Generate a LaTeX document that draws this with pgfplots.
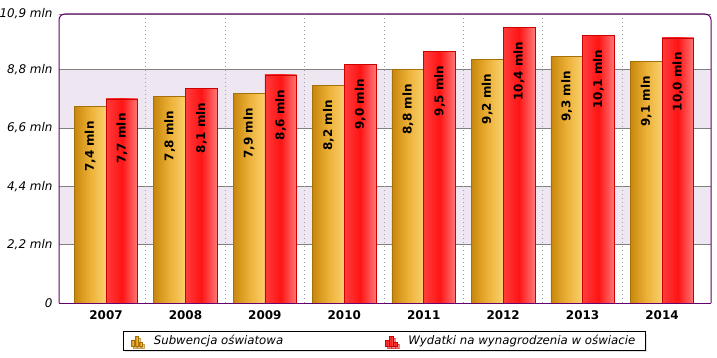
\documentclass[border=0pt]{standalone}
\usepackage{fontspec}
\setmainfont{DejaVu Sans}
\usepackage{pgfplots}
\pgfplotsset{compat=1.18}
\usetikzlibrary{shadows}
\definecolor{frame}{RGB}{102,0,110}
\definecolor{band}{RGB}{238,230,240}
\definecolor{gA}{RGB}{200,135,12}
\definecolor{gB}{RGB}{236,176,55}
\definecolor{gC}{RGB}{250,208,110}
\definecolor{gE}{RGB}{165,112,10}
\definecolor{rA}{RGB}{255,60,60}
\definecolor{rB}{RGB}{255,20,20}
\definecolor{rC}{RGB}{255,120,120}
\definecolor{rE}{RGB}{205,0,0}
\pgfplotsset{
  gbar/.style={ybar, bar width=0.4, bar shift=0pt, draw=gE, line width=0.6bp,
    left color=gA, right color=gC, middle color=gB},
  rbar/.style={ybar, bar width=0.4, bar shift=0pt, draw=rE, line width=0.6bp,
    left color=rA, right color=rC, middle color=rB},
}
\begin{document}
\begin{tikzpicture}
\begin{axis}[
  set layers,
  width=652bp, height=289bp, scale only axis,
  xmin=-0.592, xmax=7.617, ymin=0, ymax=10.9,
  axis line style={draw=none},
  tick style={draw=none},
  xtick={0,1,2,3,4,5,6,7},
  xticklabels={2007,2008,2009,2010,2011,2012,2013,2014},
  xticklabel style={font=\bfseries\fontsize{12}{14}\selectfont, yshift=-4bp},
  ytick={0,2.2,4.4,6.6,8.8,10.9},
  yticklabels={{0},{2,2 mln},{4,4 mln},{6,6 mln},{8,8 mln},{10,9 mln}},
  yticklabel style={font=\itshape\fontsize{12}{14}\selectfont, xshift=-3bp},
  ymajorgrids,
  major grid style={draw=gray, line width=0.8bp},
  extra x ticks={0.5,1.5,2.5,3.5,4.5,5.5,6.5},
  extra x tick labels={},
  extra x tick style={grid=major, major grid style={draw=gray!75, line width=1bp, dash pattern=on 1.2bp off 2.8bp}},
  /pgf/number format/assume math mode=true,
  /pgf/number format/use comma,
  /pgf/number format/fixed,
  /pgf/number format/fixed zerofill,
  /pgf/number format/precision=1,
  nodes near coords={\pgfmathprintnumber{\pgfplotspointmeta}~mln},
  every node near coord/.append style={font=\bfseries\fontsize{12}{14}\selectfont, yshift=-11bp, rotate=90, anchor=east},
  legend columns=2,
  legend style={at={(0.4985,-0.1315)}, anchor=center, draw=black, fill=white,
    drop shadow={shadow xshift=2bp, shadow yshift=-2bp, fill=gray!45},
    font=\itshape\fontsize{11.8}{14}\selectfont, inner ysep=2bp, inner xsep=8bp,
    /tikz/every odd column/.append style={column sep=9bp},
    /tikz/every even column/.append style={column sep=100bp}},
  legend image code/.code={
    \draw[#1] (0bp,-5bp) rectangle (3.5bp,1bp);
    \draw[#1] (4bp,-5bp) rectangle (7.5bp,5bp);
    \draw[#1] (8bp,-5bp) rectangle (11.5bp,-1bp);
  },
]
\begin{pgfonlayer}{axis background}
\fill[band] (axis cs:-0.592,2.2) rectangle (axis cs:7.617,4.4);
\fill[band] (axis cs:-0.592,6.6) rectangle (axis cs:7.617,8.8);
\end{pgfonlayer}
% Subwencja oswiatowa
\addplot[gbar] coordinates {(-0.2,7.4)};
\addlegendentry{Subwencja oświatowa}
% Wydatki na wynagrodzenia
\addplot[rbar] coordinates {(0.2,7.7)};
\addlegendentry{Wydatki na wynagrodzenia w oświacie}
\addplot[gbar, forget plot] coordinates {(0.8,7.8)};
\addplot[gbar, forget plot] coordinates {(1.8,7.9)};
\addplot[gbar, forget plot] coordinates {(2.8,8.2)};
\addplot[gbar, forget plot] coordinates {(3.8,8.8)};
\addplot[gbar, forget plot] coordinates {(4.8,9.2)};
\addplot[gbar, forget plot] coordinates {(5.8,9.3)};
\addplot[gbar, forget plot] coordinates {(6.8,9.1)};
\addplot[rbar, forget plot] coordinates {(1.2,8.1)};
\addplot[rbar, forget plot] coordinates {(2.2,8.6)};
\addplot[rbar, forget plot] coordinates {(3.2,9.0)};
\addplot[rbar, forget plot] coordinates {(4.2,9.5)};
\addplot[rbar, forget plot] coordinates {(5.2,10.4)};
\addplot[rbar, forget plot] coordinates {(6.2,10.1)};
\addplot[rbar, forget plot] coordinates {(7.2,10.0)};
\end{axis}
\draw[frame, line width=1bp, rounded corners=6bp] (0,0) -- (0,289bp) -- (652bp,289bp) -- (652bp,0);
\draw[frame, line width=1bp] (0,0) -- (652bp,0);
\pgfresetboundingbox
\useasboundingbox (-59bp,-55bp) rectangle (658bp,303bp);
\end{tikzpicture}
\end{document}
